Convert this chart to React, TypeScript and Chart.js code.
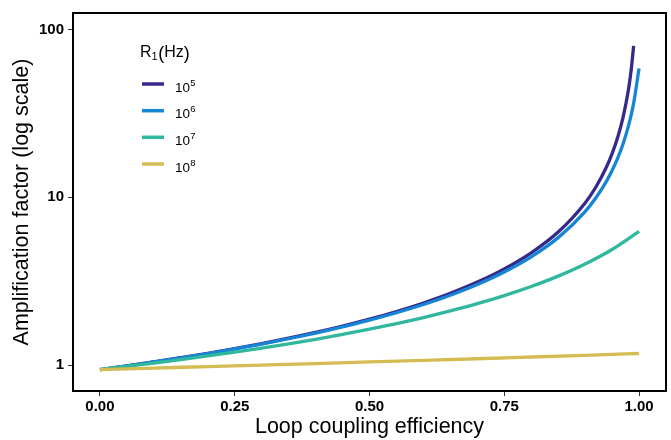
import React, { useEffect, useRef } from 'react';
import { Chart, registerables } from 'chart.js';

Chart.register(...registerables);

const FONT = '"Liberation Sans", Arial, Helvetica, sans-serif';

// Loop coupling efficiency values for each series
const xR5 = [0, 0.05, 0.1, 0.15, 0.2, 0.25, 0.3, 0.35, 0.4, 0.45, 0.5, 0.55, 0.6, 0.65, 0.7, 0.75, 0.8, 0.85, 0.9, 0.92, 0.94, 0.95, 0.96, 0.97, 0.98, 0.985, 0.99];
const yR5 = [0.94, 0.989, 1.044, 1.106, 1.174, 1.253, 1.342, 1.445, 1.565, 1.707, 1.877, 2.084, 2.344, 2.677, 3.12, 3.74, 4.666, 6.203, 9.25, 11.51, 15.24, 18.18, 22.53, 29.61, 43.19, 56.04, 79.8];

const xR6 = [0, 0.05, 0.1, 0.15, 0.2, 0.25, 0.3, 0.35, 0.4, 0.45, 0.5, 0.55, 0.6, 0.65, 0.7, 0.75, 0.8, 0.85, 0.9, 0.92, 0.94, 0.95, 0.96, 0.97, 0.98, 0.99, 1.0];
const yR6 = [0.94, 0.989, 1.043, 1.103, 1.17, 1.247, 1.334, 1.434, 1.55, 1.687, 1.85, 2.049, 2.295, 2.608, 3.021, 3.588, 4.417, 5.746, 8.217, 9.924, 12.53, 14.42, 16.98, 20.65, 26.35, 36.38, 58.5];

const xR7 = [0, 0.05, 0.1, 0.15, 0.2, 0.25, 0.3, 0.35, 0.4, 0.45, 0.5, 0.55, 0.6, 0.65, 0.7, 0.75, 0.8, 0.85, 0.9, 0.95, 1.0];
const yR7 = [0.94, 0.982, 1.027, 1.077, 1.133, 1.194, 1.262, 1.338, 1.424, 1.522, 1.635, 1.765, 1.918, 2.101, 2.321, 2.593, 2.938, 3.387, 4.0, 4.883, 6.25];

const xR8 = [0, 0.1, 0.2, 0.3, 0.4, 0.5, 0.6, 0.7, 0.8, 0.9, 1.0];
const yR8 = [0.94, 0.959, 0.979, 0.999, 1.02, 1.043, 1.066, 1.09, 1.116, 1.143, 1.171];

const seriesExponents = ['5', '6', '7', '8'];
const seriesColors = ['#35298a', '#1785d6', '#30b79d', '#d4bc52'];

const xTickValues = [0, 0.25, 0.5, 0.75, 1];
const yTickValues = [1, 10, 100];

const legendPlugin = {
  id: 'frameAndLegend',
  afterDatasetsDraw(chart: any) {
    const { ctx, chartArea: a } = chart;
    ctx.save();
    // frame
    ctx.strokeStyle = '#000';
    ctx.lineWidth = 2;
    ctx.strokeRect(a.left, a.top, a.right - a.left, a.bottom - a.top);

    // legend title R1(Hz)
    ctx.fillStyle = '#000';
    ctx.textBaseline = 'alphabetic';
    ctx.textAlign = 'left';
    let x = a.left + 67;
    const ty = a.top + 44;
    ctx.font = `16px ${FONT}`;
    ctx.fillText('R', x, ty);
    x += ctx.measureText('R').width;
    ctx.font = `11px ${FONT}`;
    ctx.fillText('1', x, ty + 3);
    x += ctx.measureText('1').width + 0.5;
    ctx.font = `18px ${FONT}`;
    ctx.fillText('(', x, ty + 1.5);
    x += ctx.measureText('(').width;
    ctx.font = `16px ${FONT}`;
    ctx.fillText('Hz', x, ty);
    x += ctx.measureText('Hz').width;
    ctx.font = `18px ${FONT}`;
    ctx.fillText(')', x, ty + 1.5);

    // legend items
    const rowY = [71, 97.7, 124.3, 151];
    seriesExponents.forEach((e, i) => {
      const y = a.top + rowY[i];
      ctx.strokeStyle = seriesColors[i];
      ctx.lineWidth = 3.5;
      ctx.lineCap = 'butt';
      ctx.beginPath();
      ctx.moveTo(a.left + 69, y);
      ctx.lineTo(a.left + 91, y);
      ctx.stroke();
      ctx.fillStyle = '#000';
      ctx.font = `13.5px ${FONT}`;
      const lx = a.left + 102;
      ctx.fillText('10', lx, y + 7.5);
      const w = ctx.measureText('10').width;
      ctx.font = `9.5px ${FONT}`;
      ctx.fillText(e, lx + w + 0.3, y + 1.5);
    });
    ctx.restore();
  },
};

export default function App() {
  const canvasRef = useRef<HTMLCanvasElement | null>(null);

  useEffect(() => {
    if (!canvasRef.current) return;
    const mk = (xs: number[], ys: number[]) => xs.map((x, i) => ({ x, y: ys[i] }));
    const allX = [xR5, xR6, xR7, xR8];
    const allY = [yR5, yR6, yR7, yR8];
    const datasets = allX.map((xs, i) => ({
      label: '10^' + seriesExponents[i],
      data: mk(xs, allY[i]),
      borderColor: seriesColors[i],
      backgroundColor: seriesColors[i],
      borderWidth: 3.3,
      pointRadius: 0,
      cubicInterpolationMode: 'monotone' as const,
      borderCapStyle: 'butt' as const,
      fill: false,
      order: 3 - i,
    }));

    const chart = new Chart(canvasRef.current, {
      type: 'line',
      data: { datasets },
      plugins: [legendPlugin],
      options: {
        animation: false,
        responsive: false,
        layout: { padding: { left: 0, top: 10, right: 5, bottom: 0 } },
        plugins: { legend: { display: false }, tooltip: { enabled: false } },
        scales: {
          x: {
            type: 'linear',
            min: -0.05,
            max: 1.05,
            afterBuildTicks: (s: any) => {
              s.ticks = xTickValues.map((v) => ({ value: v }));
            },
            afterFit: (s: any) => {
              s.height = 49;
            },
            ticks: {
              color: '#000',
              font: { family: FONT, size: 15, weight: 'bold' },
              padding: 2,
              maxRotation: 0,
              callback: (v: any) => Number(v).toFixed(2),
            },
            grid: { display: true, drawOnChartArea: false, drawTicks: true, tickLength: 5, color: '#333', lineWidth: 1 },
            border: { display: false },
            title: {
              display: true,
              text: 'Loop coupling efficiency',
              color: '#000',
              font: { family: FONT, size: 21.5 },
              padding: { top: 0, bottom: 0 },
            },
          },
          y: {
            type: 'logarithmic',
            min: 0.719,
            max: 125.4,
            afterBuildTicks: (s: any) => {
              s.ticks = yTickValues.map((v) => ({ value: v }));
            },
            afterFit: (s: any) => {
              s.width = 73;
            },
            ticks: {
              color: '#000',
              font: { family: FONT, size: 15, weight: 'bold' },
              padding: 4,
              callback: (v: any) => String(v),
            },
            grid: { display: true, drawOnChartArea: false, drawTicks: true, tickLength: 5, color: '#333', lineWidth: 1 },
            border: { display: false },
            title: {
              display: true,
              text: 'Amplification factor (log scale)',
              color: '#000',
              font: { family: FONT, size: 21.5 },
              padding: { top: 9, bottom: 0 },
            },
          },
        },
      },
    } as any);
    return () => chart.destroy();
  }, []);

  return (
    <div style={{ position: 'absolute', left: 0, top: 0, width: 671, height: 440, background: '#fff' }}>
      <canvas ref={canvasRef} width={671} height={440} />
    </div>
  );
}
